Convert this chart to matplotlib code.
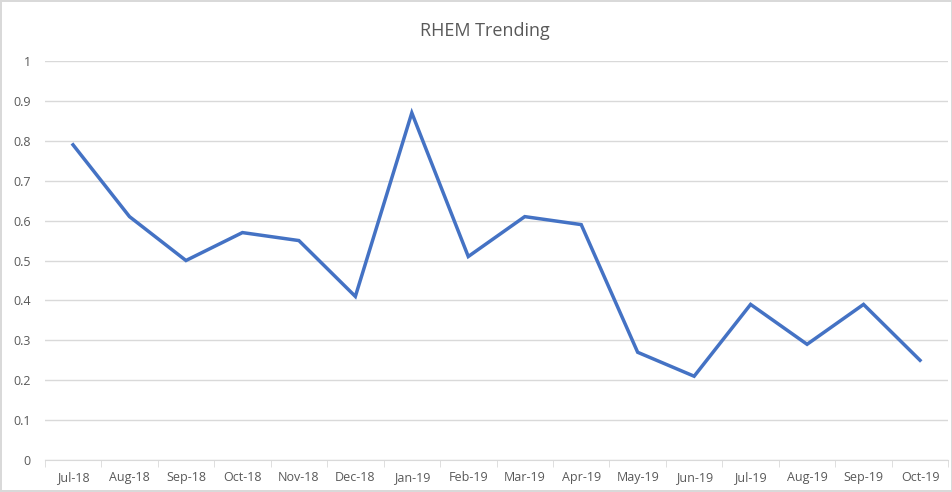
import matplotlib
matplotlib.use("Agg")
import matplotlib.pyplot as plt
import numpy as np

months = ['Jul-18', 'Aug-18', 'Sep-18', 'Oct-18', 'Nov-18', 'Dec-18', 'Jan-19', 'Feb-19',
          'Mar-19', 'Apr-19', 'May-19', 'Jun-19', 'Jul-19', 'Aug-19', 'Sep-19', 'Oct-19']
rhem = [0.79, 0.61, 0.50, 0.57, 0.55, 0.41, 0.87, 0.51,
        0.61, 0.59, 0.27, 0.21, 0.39, 0.29, 0.39, 0.25]
y_ticks = [0, 0.1, 0.2, 0.3, 0.4, 0.5, 0.6, 0.7, 0.8, 0.9, 1]
y_labels = ['0', '0.1', '0.2', '0.3', '0.4', '0.5', '0.6', '0.7', '0.8', '0.9', '1']

plt.rcParams['font.family'] = ['Open Sans', 'DejaVu Sans']

fig = plt.figure(figsize=(9.53, 4.92), dpi=100)
fig.patch.set_edgecolor('#d9d9d9')
fig.patch.set_linewidth(1.5)
ax = fig.add_axes([0.047, 0.065, 0.948, 0.811])

x = np.arange(len(months))
ax.plot(x, rhem, color='#4472c4', linewidth=2.5, solid_joinstyle='miter')

ax.set_xlim(-0.5, len(months) - 0.5)
ax.set_ylim(0, 1)
ax.set_yticks(y_ticks)
ax.set_yticklabels(y_labels)
ax.set_xticks(x)
ax.set_xticklabels(months)
ax.set_xticks(np.arange(-0.5, len(months)), minor=True)

# horizontal gridlines only, like the Excel default
ax.grid(axis='y', color='#d9d9d9', linewidth=1)
ax.set_axisbelow(True)
for side in ['top', 'right', 'left']:
    ax.spines[side].set_visible(False)
ax.spines['bottom'].set_color('#d9d9d9')

ax.tick_params(axis='x', which='major', length=0, pad=8, labelsize=9, labelcolor='#595959')
ax.tick_params(axis='x', which='minor', length=5, color='#d9d9d9')
ax.tick_params(axis='y', length=0, pad=10, labelsize=9, labelcolor='#595959')

fig.text(0.509, 0.937, 'RHEM Trending', ha='center', va='center', fontsize=13, color='#595959')

fig.savefig('out.png', dpi=100)
